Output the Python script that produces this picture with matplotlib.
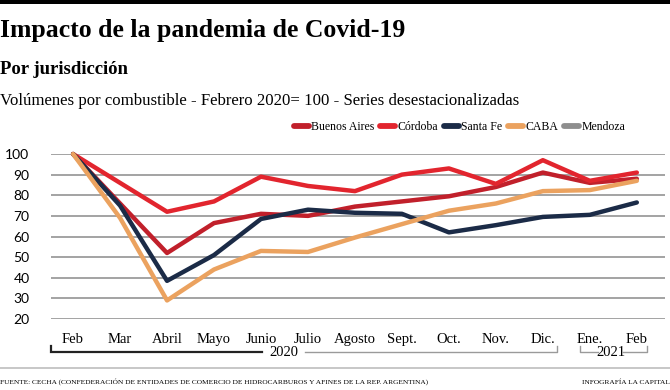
import matplotlib
matplotlib.use("Agg")
import matplotlib.pyplot as plt
import matplotlib.transforms as mtransforms
from matplotlib.lines import Line2D

months = ["Feb", "Mar", "Abril", "Mayo", "Junio", "Julio", "Agosto",
          "Sept.", "Oct.", "Nov.", "Dic.", "Ene.", "Feb"]
buenos_aires = [100, 76, 52, 66.5, 71, 70, 74.5, 77, 79.5, 84, 91, 86, 88]
cordoba = [100, 86, 72, 77, 89, 84.5, 82, 90, 93, 85.5, 97, 87, 91]
santa_fe = [100, 75, 38.5, 51, 68.5, 73, 71.5, 71, 62, 65.5, 69.5, 70.5, 76.5]
caba = [100, 69, 29, 44, 53, 52.5, 59.5, 66, 72.5, 76, 82, 82.5, 87]
mendoza = []
yticks = [20, 30, 40, 50, 60, 70, 80, 90, 100]

W, H = 670, 390
SERIF = "Liberation Serif"

def fx(px):
    return px / W

def fy(py):
    return 1 - py / H

fig = plt.figure(figsize=(6.7, 3.9), dpi=100)
fig.patch.set_facecolor("white")

# top black band
fig.add_artist(plt.Rectangle((0, fy(4)), 1, 4 / H, transform=fig.transFigure,
                             color="black", lw=0))

fig.text(fx(0), fy(37), "Impacto de la pandemia de Covid-19", family=SERIF,
         weight="bold", fontsize=18.5, va="baseline", ha="left")
fig.text(fx(0), fy(74), "Por jurisdicción", family=SERIF, weight="bold",
         fontsize=13.5, va="baseline", ha="left")
fig.text(fx(0), fy(105),
         "Volúmenes por combustible - Febrero 2020= 100 - Series desestacionalizadas",
         family=SERIF, fontsize=12.1, va="baseline", ha="left")

ax = fig.add_axes([fx(51), fy(319), fx(665) - fx(51), (319 - 154) / H])
x = list(range(len(months)))

series = [
    ("Buenos Aires", buenos_aires, "#c1202b"),
    ("Córdoba", cordoba, "#e2252e"),
    ("Santa Fe", santa_fe, "#1b2b47"),
    ("CABA", caba, "#eba25f"),
    ("Mendoza", mendoza, "#8e8e8e"),
]
handles = []
for name, vals, col in series:
    if vals:
        ax.plot(x[:len(vals)], vals, color=col, lw=3.2, clip_on=False,
                solid_capstyle="round", zorder=3)
    handles.append(Line2D([0], [0], color=col, lw=4.2, solid_capstyle="round",
                          label=name))

ax.set_xlim(-0.47, 12.6)
ax.set_ylim(20, 100)
ax.set_yticks(yticks)
ax.yaxis.grid(True, color="#8a8a8a", lw=1.1)
ax.set_axisbelow(True)
for s in ax.spines.values():
    s.set_visible(False)
ax.tick_params(axis="y", length=0, pad=15.5, labelsize=10)
for t in ax.get_yticklabels():
    t.set_family("Lato")
ax.set_xticks(x)
ax.set_xticklabels(months, family=SERIF, fontsize=10.5)
ax.tick_params(axis="x", length=0, pad=10)

# year brackets under the month labels
tr = mtransforms.blended_transform_factory(ax.transData, ax.transAxes)
yb, yt = -0.2, -0.164
ax.plot([-0.47, -0.47, 4.02], [yt, yb, yb], color="#222222", lw=1.6,
        transform=tr, clip_on=False, solid_joinstyle="miter")
ax.plot([4.94, 10.3, 10.3], [yb, yb, yt], color="#9a9a9a", lw=1,
        transform=tr, clip_on=False)
ax.text(4.48, yb, "2020", transform=tr, ha="center", va="center",
        family=SERIF, fontsize=10.5)
ax.plot([10.78, 10.78, 11.17], [yt, yb, yb], color="#9a9a9a", lw=1,
        transform=tr, clip_on=False)
ax.plot([11.7, 12.22, 12.22], [yb, yb, yt], color="#9a9a9a", lw=1,
        transform=tr, clip_on=False)
ax.text(11.44, yb, "2021", transform=tr, ha="center", va="center",
        family=SERIF, fontsize=10.5)

leg = fig.legend(handles=handles, loc="center right",
                 bbox_to_anchor=(fx(630), fy(127)), ncol=5, frameon=False,
                 prop={"family": SERIF, "size": 8.5}, handlelength=1.3,
                 handletextpad=0.2, columnspacing=0.45, borderaxespad=0)

# separator and footer
fig.add_artist(Line2D([0, 1], [fy(368), fy(368)], transform=fig.transFigure,
                      color="#bdbdbd", lw=1.2))
fig.text(fx(0), fy(382),
         "FUENTE: CECHA (CONFEDERACIÓN DE ENTIDADES DE COMERCIO DE HIDROCARBUROS Y AFINES DE LA REP. ARGENTINA)",
         family=SERIF, fontsize=5.3, va="center", ha="left")
fig.text(fx(670), fy(382), "INFOGRAFÍA LA CAPITAL", family=SERIF, fontsize=5.3,
         va="center", ha="right")

fig.savefig("out.png", dpi=100, facecolor="white")
